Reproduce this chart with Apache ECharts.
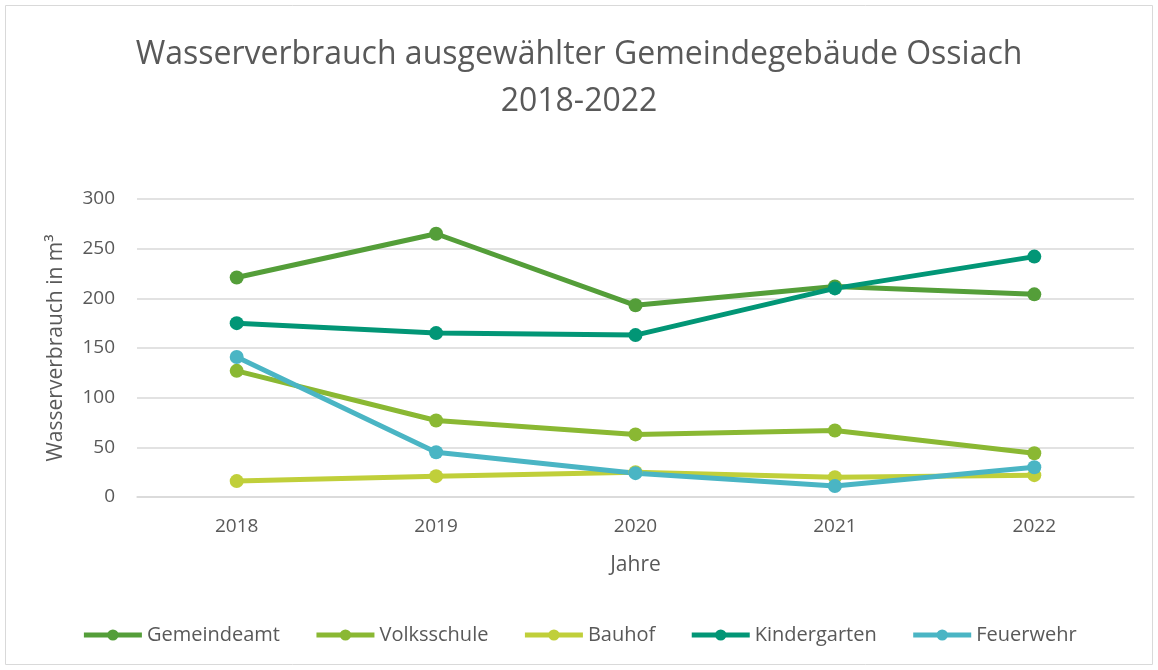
<!DOCTYPE html>
<html>
<head>
<meta charset="utf-8">
<script src="https://cdn.jsdelivr.net/npm/echarts@6/dist/echarts.min.js"></script>
<style>
  html, body { margin: 0; padding: 0; background: #fff; }
  #chart { width: 1158px; height: 670px; }
</style>
</head>
<body>
<div id="chart"></div>
<script>
  // Daten
  var years = ['2018', '2019', '2020', '2021', '2022'];
  var gemeindeamt = [221, 265, 193, 212, 204];
  var volksschule = [127, 77, 63, 67, 44];
  var bauhof = [16, 21, 25, 20, 22];
  var kindergarten = [175, 165, 163, 210, 242];
  var feuerwehr = [141, 45, 24, 11, 30];

  var textColor = '#595959';
  var font = '"Open Sans", "Liberation Sans", sans-serif';

  function line(name, data, color) {
    return {
      name: name,
      type: 'line',
      data: data,
      symbol: 'circle',
      symbolSize: 14,
      lineStyle: { width: 5, color: color },
      itemStyle: { color: color },
      emphasis: { disabled: true }
    };
  }

  var myChart = echarts.init(document.getElementById('chart'));
  var option = {
    animation: false,
    textStyle: { fontFamily: font },
    graphic: [{
      type: 'rect',
      shape: { x: 5.5, y: 5.5, width: 1147, height: 659 },
      style: { fill: 'none', stroke: '#d9d9d9', lineWidth: 1 }
    }],
    title: {
      text: 'Wasserverbrauch ausgewählter Gemeindegebäude Ossiach\n2018-2022',
      left: 'center',
      top: 26,
      textStyle: { color: textColor, fontSize: 32, fontWeight: 'normal', lineHeight: 47, fontFamily: font }
    },
    legend: {
      bottom: 20,
      left: 'center',
      itemWidth: 58,
      itemHeight: 14,
      itemGap: 34,
      lineStyle: { width: 5 },
      textStyle: { color: textColor, fontSize: 20 },
      data: ['Gemeindeamt', 'Volksschule', 'Bauhof', 'Kindergarten', 'Feuerwehr']
    },
    grid: { left: 137, right: 24, top: 199, bottom: 173 },
    xAxis: {
      type: 'category',
      data: years,
      boundaryGap: true,
      name: 'Jahre',
      nameLocation: 'middle',
      nameGap: 58,
      nameTextStyle: { color: textColor, fontSize: 21 },
      axisLine: { lineStyle: { color: '#d9d9d9', width: 1.5 } },
      axisTick: { show: false },
      axisLabel: { color: textColor, fontSize: 19, margin: 20 }
    },
    yAxis: {
      type: 'value',
      min: 0,
      max: 300,
      interval: 50,
      name: 'Wasserverbrauch in m³',
      nameLocation: 'middle',
      nameGap: 70,
      nameTextStyle: { color: textColor, fontSize: 21 },
      axisLine: { show: false },
      axisTick: { show: false },
      axisLabel: { color: textColor, fontSize: 19, margin: 22 },
      splitLine: { lineStyle: { color: '#d9d9d9', width: 1.5 } }
    },
    series: [
      line('Gemeindeamt', gemeindeamt, '#549E39'),
      line('Volksschule', volksschule, '#8AB833'),
      line('Bauhof', bauhof, '#C0CF3A'),
      line('Kindergarten', kindergarten, '#029676'),
      line('Feuerwehr', feuerwehr, '#4AB5C4')
    ]
  };
  myChart.setOption(option);
</script>
</body>
</html>
